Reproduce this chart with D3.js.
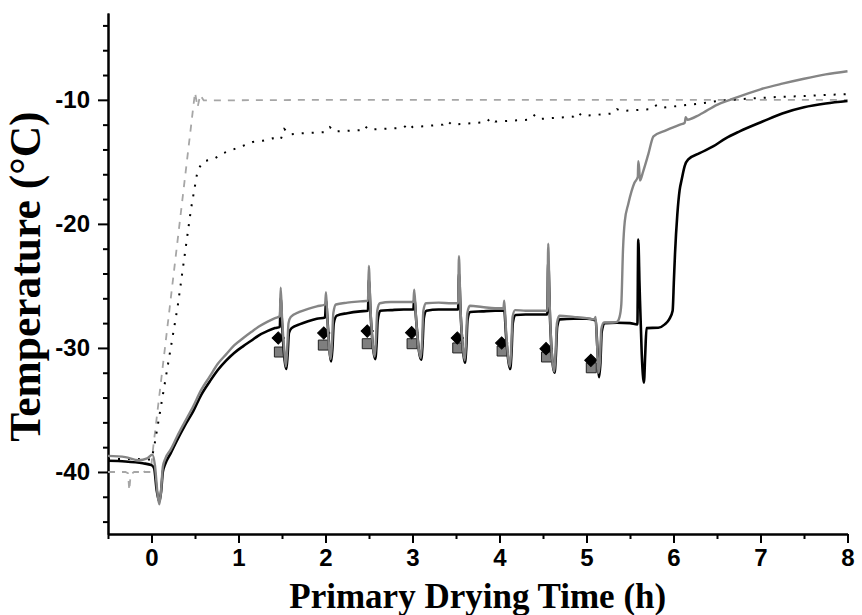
<!DOCTYPE html>
<html>
<head>
<meta charset="utf-8">
<script src="https://cdn.jsdelivr.net/npm/d3@7"></script>
<style>
  html, body { margin: 0; padding: 0; background: #fff; }
  svg { display: block; }
  .tick text { font-family: "Liberation Sans", Arial, sans-serif; font-weight: bold; }
</style>
</head>
<body>
<svg id="chart" width="862" height="615"></svg>
<script>
// Shelf temperature set-point trace (dashed)
const shelfTemp = [
  [-0.5,-40.0],[-0.3,-40.0],[-0.27,-40.1],[-0.255,-41.5],[-0.24,-40.2],[-0.2,-40.0],
  [-0.12,-40.0],[-0.1,-39.8],[-0.08,-40.0],[-0.01,-40.0],[0.02,-38.0],[0.21,-26.7],
  [0.5,-9.4],[0.53,-10.6],[0.56,-9.6],[0.6,-10.05],[2,-10.0],[4,-10.0],[6,-10.0],[8,-10.0]
];

// Reference temperature trace (dotted)
const refTemp = [
  [-0.5,-38.95],[-0.2,-38.95],[0.0,-39.0],[0.03,-38.0],[0.30,-26.7],[0.454,-18.8],
  [0.53,-15.7],[0.595,-14.95],[0.71,-14.8],[0.825,-14.3],[0.94,-14.0],[1.055,-13.7],
  [1.163,-13.4],[1.278,-13.3],[1.393,-13.1],[1.485,-13.2],[1.526,-12.35],[1.59,-12.8],
  [1.707,-12.7],[2.0,-12.6],[2.05,-12.2],[2.1,-12.55],[2.4,-12.45],[2.45,-12.1],
  [2.5,-12.4],[2.9,-12.25],[2.95,-11.9],[3.0,-12.2],[3.35,-12.0],[3.4,-11.7],[3.45,-12.0],
  [3.85,-11.8],[3.9,-11.45],[3.95,-11.75],[4.35,-11.6],[4.4,-11.25],[4.45,-11.55],
  [4.85,-11.35],[4.9,-11.0],[4.95,-11.3],[5.3,-11.1],[5.35,-10.75],[5.4,-10.9],
  [5.75,-10.75],[5.8,-10.45],[5.85,-10.65],[6.3,-10.3],[6.5,-10.1],[6.75,-9.95],
  [7.0,-9.85],[7.25,-9.75],[7.5,-9.7],[7.75,-9.6],[8.0,-9.55]
];

// Product temperature, probe 1 (black)
const probeBlack = [
  [-0.5,-39.1],[-0.3,-39.15],[-0.1,-39.3],[0.0,-39.45],[0.03,-39.7],[0.06,-41.5],
  [0.09,-42.4],[0.11,-41.6],[0.13,-40],[0.155,-39.4],[0.22,-38.5],[0.29,-37.5],
  [0.38,-36.3],[0.48,-35.1],[0.57,-33.8],[0.67,-32.7],[0.76,-31.8],[0.86,-31.0],
  [0.95,-30.4],[1.055,-29.85],[1.15,-29.4],[1.23,-29.0],[1.33,-28.65],[1.42,-28.4],
  [1.475,-28.3],
  [1.485,-26.0],[1.50,-28],[1.53,-31],[1.55,-31.7],[1.565,-30.5],[1.58,-28.8],[1.61,-28.4],
  [1.7,-28.1],[1.8,-27.85],[1.9,-27.65],[1.995,-27.55],
  [2.006,-26.2],[2.025,-28],[2.05,-30.5],[2.065,-31.1],[2.08,-30],[2.095,-28],[2.13,-27.4],
  [2.25,-27.2],[2.4,-27.05],[2.488,-27.0],
  [2.498,-24.5],[2.52,-27.5],[2.55,-30.2],[2.572,-30.9],[2.587,-29.7],[2.60,-27.8],[2.63,-27.0],
  [2.75,-26.95],[2.9,-26.9],[3.01,-26.9],
  [3.02,-26],[3.045,-28],[3.075,-30.3],[3.1,-30.95],[3.115,-29.8],[3.13,-27.6],[3.16,-27.0],
  [3.3,-26.9],[3.45,-26.9],[3.524,-26.9],
  [3.534,-24],[3.555,-27.5],[3.585,-30.5],[3.603,-31.2],[3.618,-30],[3.633,-27.7],[3.665,-27.1],
  [3.8,-27.05],[3.95,-27.0],[4.045,-27.0],
  [4.055,-27],[4.075,-29],[4.105,-31.2],[4.123,-31.7],[4.138,-30.4],[4.153,-28],[4.185,-27.35],
  [4.3,-27.3],[4.45,-27.3],[4.55,-27.3],
  [4.56,-23],[4.58,-27.5],[4.61,-31.2],[4.633,-32.0],[4.648,-30.6],[4.663,-28.3],[4.695,-27.7],
  [4.85,-27.65],[5.0,-27.65],[5.09,-27.75],
  [5.105,-27.8],[5.125,-30],[5.145,-32.35],[5.16,-31.2],[5.175,-28.7],[5.21,-28.0],
  [5.35,-27.97],[5.5,-28.0],[5.585,-28.1],
  [5.595,-21.26],[5.61,-25],[5.635,-30.5],[5.66,-32.8],[5.675,-30.5],[5.69,-28.4],
  [5.825,-28.37],[5.90,-28.1],[5.95,-27.7],[5.99,-27.0],[6.005,-24.5],[6.017,-22.46],
  [6.044,-19.24],[6.07,-17.3],[6.094,-16.43],[6.13,-15.3],[6.17,-14.8],[6.3,-14.3],
  [6.46,-13.74],[6.6,-13.1],[6.76,-12.54],[7.03,-11.73],[7.25,-11.1],[7.5,-10.6],
  [7.75,-10.3],[8.0,-10.1]
];

// Product temperature, probe 2 (grey)
const probeGrey = [
  [-0.5,-38.7],[-0.3,-38.8],[-0.15,-39.05],[-0.05,-38.9],[0.01,-38.6],[0.04,-39.5],
  [0.07,-41.8],[0.09,-42.6],[0.11,-41.5],[0.13,-39.6],[0.16,-38.9],[0.22,-38.2],
  [0.29,-37.2],[0.38,-36],[0.48,-34.7],[0.57,-33.4],[0.67,-32.3],[0.76,-31.3],
  [0.86,-30.5],[0.95,-29.8],[1.055,-29.2],[1.15,-28.7],[1.23,-28.3],[1.33,-27.9],
  [1.42,-27.6],[1.475,-27.45],
  [1.485,-25.15],[1.50,-27.5],[1.53,-30.5],[1.545,-31.5],[1.56,-30],[1.575,-28],[1.6,-27.5],
  [1.7,-27.1],[1.8,-26.85],[1.9,-26.65],[1.995,-26.5],
  [2.006,-25.5],[2.02,-27.5],[2.045,-30.2],[2.06,-30.9],[2.075,-29.5],[2.09,-27.2],[2.12,-26.5],
  [2.25,-26.35],[2.4,-26.25],[2.488,-26.2],
  [2.498,-23.4],[2.515,-26.5],[2.545,-29.8],[2.565,-30.7],[2.58,-29.3],[2.595,-27],[2.625,-26.4],
  [2.75,-26.3],[2.9,-26.3],[3.01,-26.3],
  [3.02,-25.3],[3.04,-27.5],[3.07,-30],[3.095,-30.8],[3.11,-29.5],[3.125,-27],[3.155,-26.4],
  [3.3,-26.35],[3.45,-26.4],[3.524,-26.4],
  [3.534,-22.6],[3.55,-26.5],[3.58,-30.0],[3.6,-31.0],[3.615,-29.5],[3.63,-27.2],[3.66,-26.6],
  [3.8,-26.7],[3.95,-26.8],[4.045,-26.8],
  [4.055,-26.2],[4.07,-28],[4.1,-30.8],[4.12,-31.5],[4.135,-30],[4.15,-27.5],[4.18,-26.95],
  [4.3,-27.0],[4.45,-27.0],[4.55,-27.0],
  [4.56,-21.6],[4.575,-26],[4.605,-30.8],[4.63,-31.9],[4.645,-30.3],[4.66,-28],[4.69,-27.4],
  [4.85,-27.5],[5.0,-27.6],[5.09,-27.7],
  [5.105,-27.5],[5.12,-29.5],[5.14,-32.0],[5.155,-31],[5.17,-28.5],[5.2,-27.95],
  [5.3,-27.95],[5.35,-27.9],[5.38,-27.5],[5.40,-26.5],[5.42,-22],[5.44,-19.8],
  [5.48,-18.4],[5.55,-16.7],[5.59,-16.2],[5.595,-14.95],[5.605,-15.5],[5.615,-16.5],
  [5.65,-15.8],[5.71,-14.4],[5.77,-12.95],[5.9,-12.5],[6.075,-12.0],[6.13,-11.85],
  [6.14,-11.4],[6.16,-11.6],[6.3,-11.2],[6.5,-10.4],[6.65,-10.0],[7.0,-9.15],
  [7.25,-8.7],[7.5,-8.3],[7.75,-7.95],[8.0,-7.7]
];

// Product temperature estimates at each pressure-rise test
const estDiamond = [
  [1.457,-29.2],[1.98,-28.8],[2.48,-28.64],[2.99,-28.77],
  [3.515,-29.2],[4.025,-29.6],[4.535,-30.06],[5.05,-31.0]
];
const estSquare = [
  [1.47,-30.33],[1.975,-29.77],[2.48,-29.66],[2.995,-29.66],
  [3.52,-30.0],[4.03,-30.25],[4.54,-30.73],[5.055,-31.6]
];

// Axis ticks
const xMajorTicks = [0, 1, 2, 3, 4, 5, 6, 7, 8];
const xMinorTicks = [-0.5, 0.5, 1.5, 2.5, 3.5, 4.5, 5.5, 6.5, 7.5];
const yMajorTicks = [-40, -30, -20, -10];
const yMinorTicks = [-44, -42, -38, -36, -34, -32, -28, -26, -24, -22, -18, -16, -14, -12, -8, -6, -4];

const xTitle = "Primary Drying Time (h)";
const yTitle = "Temperature (°C)";

const svg = d3.select("#chart");
const frame = { left: 108, right: 847.5, top: 13, bottom: 534 };

const x = d3.scaleLinear().domain([-0.5, 8]).range([frame.left, frame.right]);
const y = d3.scaleLinear().domain([-45, -3]).range([frame.bottom, frame.top]);

// Axes
function styleAxis(g) {
  g.select(".domain").attr("stroke", "#000").attr("stroke-width", 2);
  g.selectAll(".tick line").attr("stroke", "#000").attr("stroke-width", 2);
}

svg.append("g")
  .attr("transform", `translate(0,${frame.bottom})`)
  .call(d3.axisBottom(x).tickValues(xMinorTicks).tickSize(5).tickSizeOuter(0).tickFormat(""))
  .call(styleAxis);

svg.append("g")
  .attr("transform", `translate(0,${frame.bottom})`)
  .call(d3.axisBottom(x).tickValues(xMajorTicks).tickSize(9).tickSizeOuter(0)
    .tickPadding(6).tickFormat(d3.format("d")))
  .call(styleAxis)
  .call(g => g.selectAll(".tick text").attr("font-size", 24).attr("fill", "#000"));

svg.append("g")
  .attr("transform", `translate(${frame.left},0)`)
  .call(d3.axisLeft(y).tickValues(yMinorTicks).tickSize(5).tickSizeOuter(0).tickFormat(""))
  .call(styleAxis);

svg.append("g")
  .attr("transform", `translate(${frame.left},0)`)
  .call(d3.axisLeft(y).tickValues(yMajorTicks).tickSize(10).tickSizeOuter(0)
    .tickPadding(8).tickFormat(d => String(d)))
  .call(styleAxis)
  .call(g => g.selectAll(".tick text").attr("font-size", 24).attr("fill", "#000"));

// Axis titles
svg.append("text")
  .attr("x", (frame.left + frame.right) / 2)
  .attr("y", 608)
  .attr("text-anchor", "middle")
  .attr("font-family", "'Liberation Serif', 'Times New Roman', serif")
  .attr("font-weight", "bold")
  .attr("font-size", 35)
  .text(xTitle);

// Vertical title, sized to run from about -10 °C down to -38 °C along the axis
const yTitleEl = svg.append("text")
  .attr("text-anchor", "middle")
  .attr("font-family", "'Liberation Serif', 'Times New Roman', serif")
  .attr("font-weight", "bold")
  .attr("font-size", 36)
  .text(yTitle);
const yTitleSpan = (y(-38.5) - y(-10)) * 0.935;
const measured = yTitleEl.node().getComputedTextLength();
const yTitleSize = 36 * yTitleSpan / measured;
yTitleEl.attr("font-size", yTitleSize)
  .attr("transform", `translate(40,${(y(-38.5) + y(-10)) / 2}) rotate(-90)`);

// Markers (drawn under the traces)
const plot = svg.append("g");
const sq = d3.symbol().type(d3.symbolSquare).size(100);
const dia = d3.symbol().type(d3.symbolSquare).size(75);

plot.selectAll(".sq").data(estSquare).join("path")
  .attr("d", sq)
  .attr("transform", d => `translate(${x(d[0])},${y(d[1])})`)
  .attr("fill", "#7f7f7f").attr("stroke", "#222").attr("stroke-width", 1);

plot.selectAll(".dia").data(estDiamond).join("path")
  .attr("d", dia)
  .attr("transform", d => `translate(${x(d[0])},${y(d[1])}) rotate(45)`)
  .attr("fill", "#000").attr("stroke", "#000").attr("stroke-width", 1);

// Traces
const lineSmooth = d3.line().x(d => x(d[0])).y(d => y(d[1])).curve(d3.curveMonotoneX);
const lineStraight = d3.line().x(d => x(d[0])).y(d => y(d[1]));

plot.append("path").datum(shelfTemp)
  .attr("d", lineStraight)
  .attr("fill", "none").attr("stroke", "#a6a6a6").attr("stroke-width", 1.8)
  .attr("stroke-dasharray", "7,7");

plot.append("path").datum(refTemp)
  .attr("d", lineStraight)
  .attr("fill", "none").attr("stroke", "#000").attr("stroke-width", 2)
  .attr("stroke-dasharray", "2,8");

plot.append("path").datum(probeBlack)
  .attr("d", lineSmooth)
  .attr("fill", "none").attr("stroke", "#000").attr("stroke-width", 2.6)
  .attr("stroke-linejoin", "round");

plot.append("path").datum(probeGrey)
  .attr("d", lineSmooth)
  .attr("fill", "none").attr("stroke", "#858585").attr("stroke-width", 2.4)
  .attr("stroke-linejoin", "round");
</script>
</body>
</html>
